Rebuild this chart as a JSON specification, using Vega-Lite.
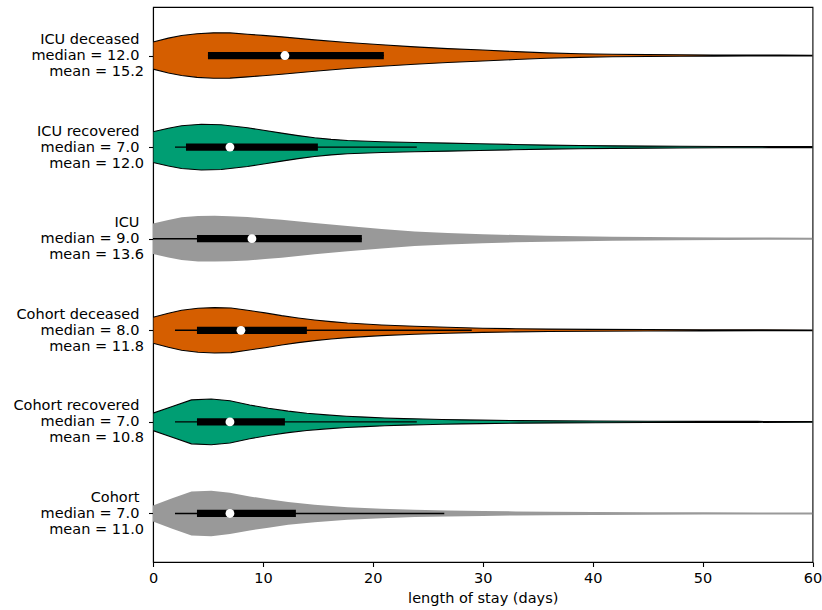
{
  "$schema": "https://vega.github.io/schema/vega-lite/v6.json",
  "autosize": {"type": "none"},
  "padding": {"left": 153, "top": 7, "right": 10, "bottom": 48},
  "width": 659.5,
  "height": 555,
  "background": "white",
  "datasets": {
    "violin": [
      {"g": "ICU deceased", "d": 0, "lo": 5.852, "hi": 6.148},
      {"g": "ICU deceased", "d": 1.4, "lo": 5.81, "hi": 6.19},
      {"g": "ICU deceased", "d": 2.6, "lo": 5.782, "hi": 6.218},
      {"g": "ICU deceased", "d": 4, "lo": 5.762, "hi": 6.238},
      {"g": "ICU deceased", "d": 5.5, "lo": 5.752, "hi": 6.248},
      {"g": "ICU deceased", "d": 7, "lo": 5.753, "hi": 6.247},
      {"g": "ICU deceased", "d": 8.6, "lo": 5.767, "hi": 6.233},
      {"g": "ICU deceased", "d": 10, "lo": 5.78, "hi": 6.22},
      {"g": "ICU deceased", "d": 11.7, "lo": 5.796, "hi": 6.204},
      {"g": "ICU deceased", "d": 14.7, "lo": 5.829, "hi": 6.171},
      {"g": "ICU deceased", "d": 17.7, "lo": 5.858, "hi": 6.142},
      {"g": "ICU deceased", "d": 20.8, "lo": 5.883, "hi": 6.117},
      {"g": "ICU deceased", "d": 23.8, "lo": 5.905, "hi": 6.095},
      {"g": "ICU deceased", "d": 26.8, "lo": 5.924, "hi": 6.076},
      {"g": "ICU deceased", "d": 30, "lo": 5.94, "hi": 6.06},
      {"g": "ICU deceased", "d": 33, "lo": 5.957, "hi": 6.043},
      {"g": "ICU deceased", "d": 35.8, "lo": 5.971, "hi": 6.029},
      {"g": "ICU deceased", "d": 38.8, "lo": 5.98, "hi": 6.02},
      {"g": "ICU deceased", "d": 41.8, "lo": 5.986, "hi": 6.014},
      {"g": "ICU deceased", "d": 45, "lo": 5.99, "hi": 6.01},
      {"g": "ICU deceased", "d": 47.9, "lo": 5.992, "hi": 6.008},
      {"g": "ICU deceased", "d": 51, "lo": 5.994, "hi": 6.006},
      {"g": "ICU deceased", "d": 54, "lo": 5.995, "hi": 6.005},
      {"g": "ICU deceased", "d": 57, "lo": 5.996, "hi": 6.004},
      {"g": "ICU deceased", "d": 60, "lo": 5.9965, "hi": 6.0035},

      {"g": "ICU recovered", "d": 0, "lo": 4.833, "hi": 5.167},
      {"g": "ICU recovered", "d": 1.4, "lo": 4.793, "hi": 5.207},
      {"g": "ICU recovered", "d": 2.6, "lo": 4.767, "hi": 5.233},
      {"g": "ICU recovered", "d": 4.4, "lo": 4.75, "hi": 5.25},
      {"g": "ICU recovered", "d": 6.2, "lo": 4.756, "hi": 5.244},
      {"g": "ICU recovered", "d": 8.6, "lo": 4.789, "hi": 5.211},
      {"g": "ICU recovered", "d": 10.2, "lo": 4.818, "hi": 5.182},
      {"g": "ICU recovered", "d": 11.7, "lo": 4.847, "hi": 5.153},
      {"g": "ICU recovered", "d": 13.2, "lo": 4.874, "hi": 5.126},
      {"g": "ICU recovered", "d": 14.7, "lo": 4.898, "hi": 5.102},
      {"g": "ICU recovered", "d": 16.2, "lo": 4.915, "hi": 5.085},
      {"g": "ICU recovered", "d": 17.7, "lo": 4.927, "hi": 5.073},
      {"g": "ICU recovered", "d": 20.8, "lo": 4.942, "hi": 5.058},
      {"g": "ICU recovered", "d": 23.8, "lo": 4.949, "hi": 5.051},
      {"g": "ICU recovered", "d": 26.8, "lo": 4.956, "hi": 5.044},
      {"g": "ICU recovered", "d": 29.7, "lo": 4.963, "hi": 5.037},
      {"g": "ICU recovered", "d": 32.8, "lo": 4.971, "hi": 5.029},
      {"g": "ICU recovered", "d": 35.8, "lo": 4.978, "hi": 5.022},
      {"g": "ICU recovered", "d": 38.8, "lo": 4.983, "hi": 5.017},
      {"g": "ICU recovered", "d": 41.8, "lo": 4.986, "hi": 5.014},
      {"g": "ICU recovered", "d": 45, "lo": 4.989, "hi": 5.011},
      {"g": "ICU recovered", "d": 47.9, "lo": 4.991, "hi": 5.009},
      {"g": "ICU recovered", "d": 52, "lo": 4.993, "hi": 5.007},
      {"g": "ICU recovered", "d": 56, "lo": 4.994, "hi": 5.006},
      {"g": "ICU recovered", "d": 60, "lo": 4.995, "hi": 5.005},

      {"g": "ICU", "d": 0, "lo": 3.833, "hi": 4.167},
      {"g": "ICU", "d": 1.4, "lo": 3.796, "hi": 4.204},
      {"g": "ICU", "d": 2.6, "lo": 3.767, "hi": 4.233},
      {"g": "ICU", "d": 4.1, "lo": 3.752, "hi": 4.248},
      {"g": "ICU", "d": 5.6, "lo": 3.75, "hi": 4.25},
      {"g": "ICU", "d": 7, "lo": 3.755, "hi": 4.245},
      {"g": "ICU", "d": 8.6, "lo": 3.763, "hi": 4.237},
      {"g": "ICU", "d": 10.2, "lo": 3.778, "hi": 4.222},
      {"g": "ICU", "d": 11.7, "lo": 3.793, "hi": 4.207},
      {"g": "ICU", "d": 14.7, "lo": 3.829, "hi": 4.171},
      {"g": "ICU", "d": 17.7, "lo": 3.862, "hi": 4.138},
      {"g": "ICU", "d": 20.8, "lo": 3.894, "hi": 4.106},
      {"g": "ICU", "d": 23.8, "lo": 3.92, "hi": 4.08},
      {"g": "ICU", "d": 26.8, "lo": 3.938, "hi": 4.062},
      {"g": "ICU", "d": 30, "lo": 3.95, "hi": 4.05},
      {"g": "ICU", "d": 33, "lo": 3.96, "hi": 4.04},
      {"g": "ICU", "d": 35.8, "lo": 3.967, "hi": 4.033},
      {"g": "ICU", "d": 38.8, "lo": 3.973, "hi": 4.027},
      {"g": "ICU", "d": 41.8, "lo": 3.978, "hi": 4.022},
      {"g": "ICU", "d": 45, "lo": 3.981, "hi": 4.019},
      {"g": "ICU", "d": 47.9, "lo": 3.984, "hi": 4.016},
      {"g": "ICU", "d": 52, "lo": 3.986, "hi": 4.014},
      {"g": "ICU", "d": 56, "lo": 3.988, "hi": 4.012},
      {"g": "ICU", "d": 60, "lo": 3.989, "hi": 4.011},

      {"g": "Cohort deceased", "d": 0, "lo": 2.858, "hi": 3.142},
      {"g": "Cohort deceased", "d": 1.4, "lo": 2.814, "hi": 3.186},
      {"g": "Cohort deceased", "d": 2.6, "lo": 2.782, "hi": 3.218},
      {"g": "Cohort deceased", "d": 4.1, "lo": 2.76, "hi": 3.24},
      {"g": "Cohort deceased", "d": 5.6, "lo": 2.752, "hi": 3.248},
      {"g": "Cohort deceased", "d": 7.1, "lo": 2.756, "hi": 3.244},
      {"g": "Cohort deceased", "d": 8.6, "lo": 2.782, "hi": 3.218},
      {"g": "Cohort deceased", "d": 10.2, "lo": 2.81, "hi": 3.19},
      {"g": "Cohort deceased", "d": 11.7, "lo": 2.84, "hi": 3.16},
      {"g": "Cohort deceased", "d": 13.2, "lo": 2.865, "hi": 3.135},
      {"g": "Cohort deceased", "d": 14.7, "lo": 2.887, "hi": 3.113},
      {"g": "Cohort deceased", "d": 16.2, "lo": 2.905, "hi": 3.095},
      {"g": "Cohort deceased", "d": 17.7, "lo": 2.92, "hi": 3.08},
      {"g": "Cohort deceased", "d": 20.8, "lo": 2.942, "hi": 3.058},
      {"g": "Cohort deceased", "d": 23.8, "lo": 2.956, "hi": 3.044},
      {"g": "Cohort deceased", "d": 26.8, "lo": 2.967, "hi": 3.033},
      {"g": "Cohort deceased", "d": 30, "lo": 2.977, "hi": 3.023},
      {"g": "Cohort deceased", "d": 33, "lo": 2.983, "hi": 3.017},
      {"g": "Cohort deceased", "d": 36, "lo": 2.987, "hi": 3.013},
      {"g": "Cohort deceased", "d": 40, "lo": 2.99, "hi": 3.01},
      {"g": "Cohort deceased", "d": 45, "lo": 2.992, "hi": 3.008},
      {"g": "Cohort deceased", "d": 50, "lo": 2.994, "hi": 3.006},
      {"g": "Cohort deceased", "d": 55, "lo": 2.995, "hi": 3.005},
      {"g": "Cohort deceased", "d": 60, "lo": 2.996, "hi": 3.004},

      {"g": "Cohort recovered", "d": 0, "lo": 1.905, "hi": 2.095},
      {"g": "Cohort recovered", "d": 1.75, "lo": 1.833, "hi": 2.167},
      {"g": "Cohort recovered", "d": 3.5, "lo": 1.76, "hi": 2.24},
      {"g": "Cohort recovered", "d": 5.3, "lo": 1.75, "hi": 2.25},
      {"g": "Cohort recovered", "d": 7.0, "lo": 1.77, "hi": 2.23},
      {"g": "Cohort recovered", "d": 8.8, "lo": 1.815, "hi": 2.185},
      {"g": "Cohort recovered", "d": 10.5, "lo": 1.852, "hi": 2.148},
      {"g": "Cohort recovered", "d": 12.3, "lo": 1.883, "hi": 2.117},
      {"g": "Cohort recovered", "d": 14.0, "lo": 1.906, "hi": 2.094},
      {"g": "Cohort recovered", "d": 15.8, "lo": 1.924, "hi": 2.076},
      {"g": "Cohort recovered", "d": 17.6, "lo": 1.938, "hi": 2.062},
      {"g": "Cohort recovered", "d": 19.3, "lo": 1.948, "hi": 2.052},
      {"g": "Cohort recovered", "d": 21.1, "lo": 1.957, "hi": 2.043},
      {"g": "Cohort recovered", "d": 22.8, "lo": 1.964, "hi": 2.036},
      {"g": "Cohort recovered", "d": 24.6, "lo": 1.969, "hi": 2.031},
      {"g": "Cohort recovered", "d": 26.3, "lo": 1.974, "hi": 2.026},
      {"g": "Cohort recovered", "d": 28.1, "lo": 1.978, "hi": 2.022},
      {"g": "Cohort recovered", "d": 29.8, "lo": 1.981, "hi": 2.019},
      {"g": "Cohort recovered", "d": 33.3, "lo": 1.986, "hi": 2.014},
      {"g": "Cohort recovered", "d": 36.8, "lo": 1.989, "hi": 2.011},
      {"g": "Cohort recovered", "d": 40.3, "lo": 1.991, "hi": 2.009},
      {"g": "Cohort recovered", "d": 45, "lo": 1.993, "hi": 2.007},
      {"g": "Cohort recovered", "d": 50, "lo": 1.994, "hi": 2.006},
      {"g": "Cohort recovered", "d": 55, "lo": 1.995, "hi": 2.005},
      {"g": "Cohort recovered", "d": 60, "lo": 1.996, "hi": 2.004},

      {"g": "Cohort", "d": 0, "lo": 0.913, "hi": 1.087},
      {"g": "Cohort", "d": 1.75, "lo": 0.833, "hi": 1.167},
      {"g": "Cohort", "d": 3.5, "lo": 0.76, "hi": 1.24},
      {"g": "Cohort", "d": 5.3, "lo": 0.752, "hi": 1.248},
      {"g": "Cohort", "d": 7.0, "lo": 0.775, "hi": 1.225},
      {"g": "Cohort", "d": 8.8, "lo": 0.814, "hi": 1.186},
      {"g": "Cohort", "d": 10.5, "lo": 0.845, "hi": 1.155},
      {"g": "Cohort", "d": 12.3, "lo": 0.876, "hi": 1.124},
      {"g": "Cohort", "d": 14.7, "lo": 0.905, "hi": 1.095},
      {"g": "Cohort", "d": 17.7, "lo": 0.931, "hi": 1.069},
      {"g": "Cohort", "d": 20.8, "lo": 0.949, "hi": 1.051},
      {"g": "Cohort", "d": 23.8, "lo": 0.96, "hi": 1.04},
      {"g": "Cohort", "d": 26.8, "lo": 0.967, "hi": 1.033},
      {"g": "Cohort", "d": 30, "lo": 0.973, "hi": 1.027},
      {"g": "Cohort", "d": 33, "lo": 0.978, "hi": 1.022},
      {"g": "Cohort", "d": 36, "lo": 0.981, "hi": 1.019},
      {"g": "Cohort", "d": 40, "lo": 0.984, "hi": 1.016},
      {"g": "Cohort", "d": 45, "lo": 0.987, "hi": 1.013},
      {"g": "Cohort", "d": 50, "lo": 0.988, "hi": 1.012},
      {"g": "Cohort", "d": 55, "lo": 0.989, "hi": 1.011},
      {"g": "Cohort", "d": 60, "lo": 0.99, "hi": 1.01}
    ],
    "stats": [
      {"g": "ICU deceased", "pos": 6, "wlo": 5, "whi": 21, "q1": 5, "q3": 21, "med": 12},
      {"g": "ICU recovered", "pos": 5, "wlo": 2, "whi": 24, "q1": 3, "q3": 15, "med": 7},
      {"g": "ICU", "pos": 4, "wlo": 0, "whi": 19, "q1": 4, "q3": 19, "med": 9},
      {"g": "Cohort deceased", "pos": 3, "wlo": 2, "whi": 29, "q1": 4, "q3": 14, "med": 8},
      {"g": "Cohort recovered", "pos": 2, "wlo": 2, "whi": 24, "q1": 4, "q3": 12, "med": 7},
      {"g": "Cohort", "pos": 1, "wlo": 2, "whi": 26.5, "q1": 4, "q3": 13, "med": 7}
    ]
  },
  "layer": [
    {
      "data": {"name": "violin"},
      "mark": {"type": "area", "orient": "vertical", "clip": true, "strokeWidth": 1.1, "interpolate": "linear"},
      "encoding": {
        "x": {"field": "d", "type": "quantitative",
              "scale": {"domain": [0, 60], "nice": false, "zero": false},
              "axis": {"values": [0, 10, 20, 30, 40, 50, 60], "title": "length of stay (days)", "labelPadding": 5, "titlePadding": 6, "labelFlush": false}},
        "y": {"field": "lo", "type": "quantitative",
              "scale": {"domain": [0.47, 6.53], "nice": false, "zero": false},
              "axis": {"values": [1, 2, 3, 4, 5, 6], "title": null, "labelPadding": 5, "labelAlign": "right", "labelBaseline": "middle", "labelLineHeight": 16, "labelOffset": -16,
                       "labelExpr": "datum.value == 6 ? ['ICU deceased\u00a0\u200b', 'median = 12.0\u00a0\u200b', 'mean = 15.2'] : datum.value == 5 ? ['ICU recovered\u00a0\u200b', 'median = 7.0\u00a0\u200b', 'mean = 12.0'] : datum.value == 4 ? ['ICU\u00a0\u200b', 'median = 9.0\u00a0\u200b', 'mean = 13.6'] : datum.value == 3 ? ['Cohort deceased\u00a0\u200b', 'median = 8.0\u00a0\u200b', 'mean = 11.8'] : datum.value == 2 ? ['Cohort recovered\u00a0\u200b', 'median = 7.0\u00a0\u200b', 'mean = 10.8'] : ['Cohort\u00a0\u200b', 'median = 7.0\u00a0\u200b', 'mean = 11.0']"}},
        "y2": {"field": "hi"},
        "fill": {"field": "g", "type": "nominal", "legend": null,
                 "scale": {"domain": ["ICU deceased", "ICU recovered", "ICU", "Cohort deceased", "Cohort recovered", "Cohort"],
                           "range": ["#D55E00", "#009E73", "#999999", "#D55E00", "#009E73", "#999999"]}},
        "stroke": {"field": "g", "type": "nominal", "legend": null,
                   "scale": {"domain": ["ICU deceased", "ICU recovered", "ICU", "Cohort deceased", "Cohort recovered", "Cohort"],
                             "range": ["#000000", "#000000", "transparent", "#000000", "#000000", "transparent"]}}
      }
    },
    {
      "data": {"name": "stats"},
      "mark": {"type": "rule", "color": "black", "strokeWidth": 1.4, "clip": true},
      "encoding": {
        "x": {"field": "wlo", "type": "quantitative"},
        "x2": {"field": "whi"},
        "y": {"field": "pos", "type": "quantitative"}
      }
    },
    {
      "data": {"name": "stats"},
      "mark": {"type": "rule", "color": "black", "strokeWidth": 7.3, "strokeCap": "butt"},
      "encoding": {
        "x": {"field": "q1", "type": "quantitative"},
        "x2": {"field": "q3"},
        "y": {"field": "pos", "type": "quantitative"}
      }
    },
    {
      "data": {"name": "stats"},
      "mark": {"type": "point", "shape": "circle", "filled": true, "color": "white", "opacity": 1, "size": 78, "strokeWidth": 0},
      "encoding": {
        "x": {"field": "med", "type": "quantitative"},
        "y": {"field": "pos", "type": "quantitative"}
      }
    }
  ],
  "config": {
    "view": {"stroke": "black", "strokeWidth": 1.1},
    "axis": {
      "domainColor": "black", "domainWidth": 1.1,
      "tickColor": "black", "tickWidth": 1.1, "tickSize": 4.5,
      "labelColor": "black", "titleColor": "black",
      "labelFont": "DejaVu Sans", "titleFont": "DejaVu Sans",
      "labelFontSize": 14.5, "titleFontSize": 14.5, "titleFontWeight": "normal",
      "grid": false
    }
  }
}
